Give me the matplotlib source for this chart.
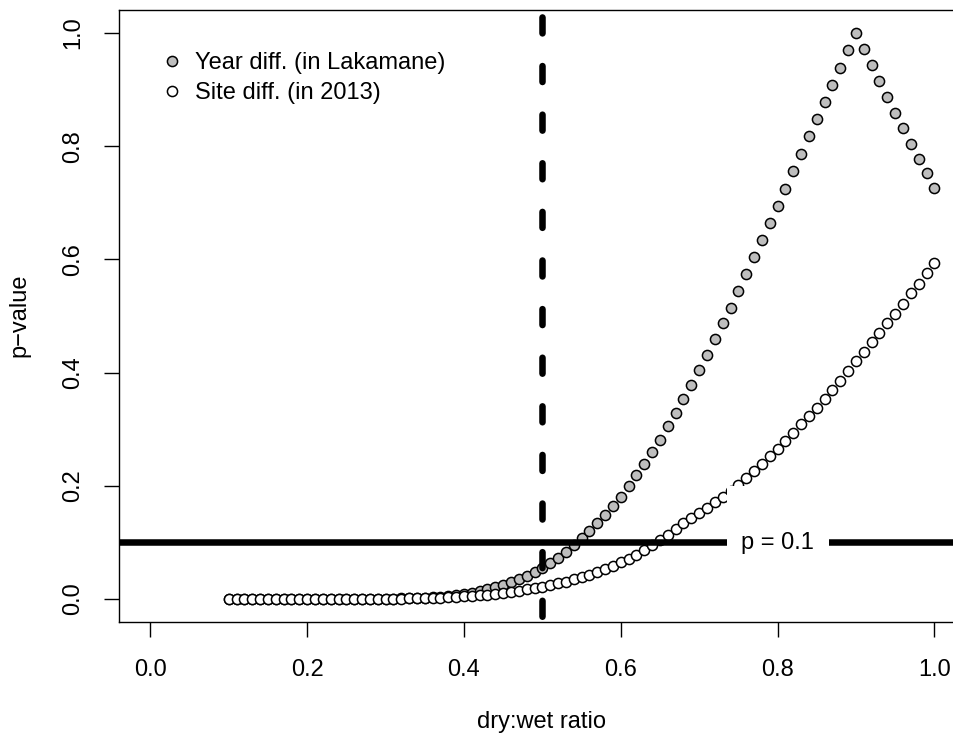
import matplotlib
matplotlib.use("Agg")
import matplotlib.pyplot as plt
from matplotlib.patches import Rectangle
from matplotlib.lines import Line2D

plt.rcParams['font.family'] = ['Liberation Sans', 'DejaVu Sans']
plt.rcParams['lines.scale_dashes'] = False

ratio = [0.10, 0.11, 0.12, 0.13, 0.14, 0.15, 0.16, 0.17, 0.18, 0.19,
         0.20, 0.21, 0.22, 0.23, 0.24, 0.25, 0.26, 0.27, 0.28, 0.29,
         0.30, 0.31, 0.32, 0.33, 0.34, 0.35, 0.36, 0.37, 0.38, 0.39,
         0.40, 0.41, 0.42, 0.43, 0.44, 0.45, 0.46, 0.47, 0.48, 0.49,
         0.50, 0.51, 0.52, 0.53, 0.54, 0.55, 0.56, 0.57, 0.58, 0.59,
         0.60, 0.61, 0.62, 0.63, 0.64, 0.65, 0.66, 0.67, 0.68, 0.69,
         0.70, 0.71, 0.72, 0.73, 0.74, 0.75, 0.76, 0.77, 0.78, 0.79,
         0.80, 0.81, 0.82, 0.83, 0.84, 0.85, 0.86, 0.87, 0.88, 0.89,
         0.90, 0.91, 0.92, 0.93, 0.94, 0.95, 0.96, 0.97, 0.98, 0.99,
         1.00]

year_diff = [0.0000, 0.0000, 0.0000, 0.0000, 0.0000, 0.0000, 0.0000, 0.0000, 0.0000, 0.0000,
             0.0000, 0.0000, 0.0000, 0.0001, 0.0001, 0.0001, 0.0001, 0.0002, 0.0003, 0.0004,
             0.0005, 0.0007, 0.0010, 0.0014, 0.0019, 0.0025, 0.0033, 0.0043, 0.0055, 0.0070,
             0.009, 0.011, 0.014, 0.017, 0.021, 0.025, 0.030, 0.035, 0.041, 0.048,
             0.055, 0.064, 0.073, 0.084, 0.095, 0.107, 0.120, 0.134, 0.149, 0.165,
             0.181, 0.200, 0.219, 0.239, 0.260, 0.281, 0.305, 0.329, 0.354, 0.379,
             0.405, 0.432, 0.459, 0.487, 0.515, 0.544, 0.574, 0.604, 0.634, 0.664,
             0.694, 0.725, 0.756, 0.787, 0.818, 0.848, 0.879, 0.909, 0.939, 0.970,
             1.000, 0.972, 0.944, 0.915, 0.887, 0.859, 0.832, 0.804, 0.778, 0.753,
             0.727]

site_diff = [0.0000, 0.0000, 0.0000, 0.0000, 0.0000, 0.0000, 0.0000, 0.0000, 0.0000, 0.0000,
             0.0000, 0.0000, 0.0000, 0.0000, 0.0001, 0.0001, 0.0001, 0.0002, 0.0003, 0.0004,
             0.0005, 0.0007, 0.0009, 0.0011, 0.0014, 0.0018, 0.0022, 0.0027, 0.0033, 0.0040,
             0.0050, 0.0060, 0.0070, 0.0080, 0.0095, 0.011, 0.013, 0.015, 0.017, 0.0195,
             0.022, 0.025, 0.028, 0.031, 0.035, 0.039, 0.043, 0.048, 0.053, 0.059,
             0.065, 0.071, 0.078, 0.086, 0.095, 0.104, 0.114, 0.124, 0.134, 0.143,
             0.152, 0.161, 0.171, 0.181, 0.191, 0.202, 0.214, 0.226, 0.239, 0.252,
             0.265, 0.279, 0.294, 0.309, 0.323, 0.338, 0.354, 0.370, 0.386, 0.403,
             0.420, 0.437, 0.454, 0.470, 0.488, 0.504, 0.522, 0.540, 0.557, 0.576,
             0.594]

series_labels = ["Year diff. (in Lakamane)", "Site diff. (in 2013)"]
x_ticks = [0.0, 0.2, 0.4, 0.6, 0.8, 1.0]
y_ticks = [0.0, 0.2, 0.4, 0.6, 0.8, 1.0]
threshold = 0.1
cutoff_ratio = 0.5
threshold_label = "p = 0.1"

FS = 17
W, H = 954, 738
fig = plt.figure(figsize=(W / 100, H / 100), dpi=100)
ax = fig.add_axes([119 / W, (H - 621.7) / H, (965.7 - 119) / W, (621.7 - 10.4) / H])
ax.set_xlim(-0.04, 1.04)
ax.set_ylim(-0.04, 1.04)

ms, mew = 7.3, 1.1
ax.plot(ratio, year_diff, 'o', ms=ms, mfc='#BEBEBE', mec='black', mew=mew,
        linestyle='none', zorder=2, clip_on=False)
ax.plot(ratio, site_diff, 'o', ms=ms, mfc='white', mec='black', mew=mew,
        linestyle='none', zorder=2.1, clip_on=False)

# threshold line
ax.axhline(threshold, color='black', lw=4.7, solid_capstyle='butt', zorder=3)
# dashed cutoff line, drawn top to bottom
ax.plot([cutoff_ratio, cutoff_ratio], [1.04, -0.04], color='black', lw=4.7,
        linestyle=(30.0, (11.5, 23.5)), dash_capstyle='round', zorder=3)

# white label box breaking the threshold line
ax.add_patch(Rectangle((0.7355, 0.0), 0.8650 - 0.7355, 0.2, facecolor='white',
                       edgecolor='none', zorder=4))
ax.text(0.8, 0.0883, threshold_label, ha='center', va='baseline', fontsize=FS, zorder=5)

# axes styling
for s in ['top', 'bottom', 'left', 'right']:
    ax.spines[s].set_linewidth(1.0)
ax.spines['right'].set_visible(False)
ax.set_xticks(x_ticks)
ax.set_xticklabels([f"{v:.1f}" for v in x_ticks])
ax.set_yticks(y_ticks)
ax.set_yticklabels([f"{v:.1f}" for v in y_ticks])
ax.tick_params(axis='both', length=10.8, width=1.0, labelsize=FS, direction='out')
ax.tick_params(axis='x', pad=16)
ax.tick_params(axis='y', pad=14)
for lab in ax.get_yticklabels():
    lab.set_rotation(90)
    lab.set_va('center')
    lab.set_ha('right')

fig.text(541.7 / W, (H - 728.3) / H, "dry:wet ratio", ha='center', va='baseline', fontsize=FS)
fig.text(25 / W, (H - 315.7) / H, "p\u2212value", ha='center', va='baseline', rotation=90,
         rotation_mode='anchor', fontsize=FS)

handles = [Line2D([], [], marker='o', linestyle='none', ms=ms, mfc='#BEBEBE', mec='black', mew=mew),
           Line2D([], [], marker='o', linestyle='none', ms=ms, mfc='white', mec='black', mew=mew)]
ax.legend(handles, series_labels, loc='upper left', bbox_to_anchor=(164.6 / W, (H - 52.2) / H),
          bbox_transform=fig.transFigure, frameon=False, fontsize=FS, borderpad=0,
          borderaxespad=0, handlelength=0.6, handletextpad=0.69, labelspacing=0.33,
          numpoints=1)

fig.savefig("out.png", dpi=100)
